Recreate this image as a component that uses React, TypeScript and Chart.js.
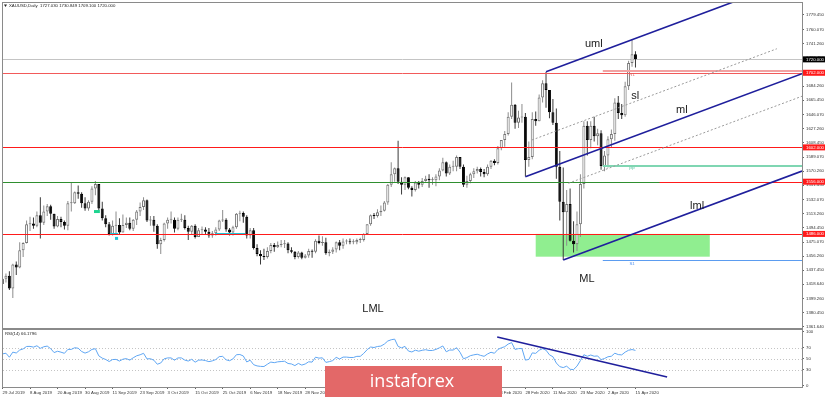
import React, { useEffect, useRef } from "react";
import { Chart, registerables } from "chart.js";

Chart.register(...registerables);

// ---------------- data ----------------
const headerText = "XAUUSD,Daily  1727.030 1730.849 1709.100 1720.000";
const rsiLabel = "RSI(14) 66.1796";

const dateTickBars = [0, 8, 16, 24, 32, 40, 48, 56, 64, 72, 80, 88, 96, 104, 112, 120, 128, 136, 144, 152, 160, 168, 176, 184];
const dateTickLabels = [
  "29 Jul 2019", "8 Aug 2019", "20 Aug 2019", "30 Aug 2019", "11 Sep 2019", "23 Sep 2019",
  "3 Oct 2019", "15 Oct 2019", "25 Oct 2019", "6 Nov 2019", "18 Nov 2019", "28 Nov 2019",
  "10 Dec 2019", "20 Dec 2019", "3 Jan 2020", "15 Jan 2020", "27 Jan 2020", "6 Feb 2020",
  "18 Feb 2020", "28 Feb 2020", "11 Mar 2020", "23 Mar 2020", "2 Apr 2020", "15 Apr 2020",
];

const priceTicks = [
  1779.45, 1760.07, 1741.26, 1722.45, 1703.64, 1684.26, 1665.45, 1646.07, 1627.26, 1608.45,
  1589.07, 1570.26, 1551.45, 1532.07, 1513.26, 1494.45, 1475.07, 1456.26, 1437.45, 1418.64,
  1399.26, 1380.45, 1361.64,
];
const rsiTicks = [0, 30, 50, 70, 100];
const rsiLevels = [30, 50, 70];

const firstOpen = 1419;
const closes = [
  1426, 1430, 1413, 1445, 1441, 1464, 1474, 1499, 1500, 1497,
  1511, 1501, 1516, 1523, 1513, 1496, 1506, 1502, 1497, 1527,
  1527, 1542, 1540, 1527, 1520, 1529, 1547, 1553, 1520, 1507,
  1499, 1486, 1497, 1498, 1488, 1498, 1501, 1493, 1505, 1516,
  1522, 1531, 1504, 1505, 1497, 1472, 1478, 1500, 1505, 1505,
  1493, 1505, 1505, 1494, 1489, 1497, 1482, 1491, 1492, 1489,
  1484, 1487, 1492, 1504, 1505, 1492, 1488, 1495, 1513, 1514,
  1509, 1484, 1491, 1467, 1459, 1456, 1455, 1463, 1471, 1468,
  1471, 1472, 1473, 1464, 1462, 1455, 1461, 1454, 1457, 1463,
  1462, 1477, 1474, 1475, 1460, 1462, 1465, 1475, 1470, 1476,
  1476, 1475, 1475, 1478, 1478, 1486, 1499, 1511, 1510, 1515,
  1517, 1528, 1552, 1566, 1574, 1556, 1552, 1562, 1548, 1545,
  1555, 1552, 1557, 1560, 1558, 1558, 1563, 1571, 1582, 1567,
  1576, 1576, 1589, 1576, 1552, 1557, 1566, 1570, 1573, 1569,
  1566, 1576, 1584, 1581, 1601, 1612, 1620, 1643, 1659, 1635,
  1642, 1643, 1585, 1589, 1640, 1637, 1669, 1688, 1679, 1649,
  1635, 1576, 1529, 1515, 1526, 1477, 1472, 1499, 1553, 1631,
  1612, 1631, 1617, 1621, 1577, 1591, 1613, 1620, 1662, 1648,
  1645, 1684, 1715, 1727, 1720,
];
const highs = [
  1428, 1433, 1436, 1446, 1449, 1475, 1475, 1504, 1509, 1508,
  1516, 1535, 1524, 1526, 1525, 1513, 1510, 1509, 1504, 1530,
  1555, 1543, 1551, 1542, 1535, 1531, 1550, 1557, 1553, 1529,
  1511, 1502, 1504, 1516, 1507, 1512, 1508, 1508, 1506, 1518,
  1528, 1535, 1532, 1510, 1510, 1499, 1481, 1501, 1508, 1516,
  1508, 1508, 1513, 1511, 1497, 1498, 1499, 1494, 1496, 1495,
  1494, 1490, 1495, 1505, 1518, 1507, 1494, 1497, 1514, 1517,
  1516, 1511, 1494, 1494, 1472, 1464, 1466, 1468, 1474, 1474,
  1476, 1478, 1478, 1475, 1468, 1463, 1463, 1462, 1459, 1466,
  1465, 1479, 1484, 1483, 1481, 1465, 1468, 1476, 1478, 1480,
  1479, 1480, 1479, 1480, 1481, 1487, 1499, 1512, 1514, 1519,
  1524, 1530, 1553, 1582, 1575, 1611, 1562, 1563, 1562, 1550,
  1557, 1557, 1561, 1564, 1566, 1562, 1566, 1574, 1588, 1583,
  1579, 1584, 1591, 1589, 1579, 1564, 1568, 1574, 1576, 1575,
  1573, 1579, 1585, 1586, 1604, 1612, 1624, 1649, 1689, 1660,
  1651, 1660, 1648, 1610, 1649, 1650, 1673, 1692, 1703, 1679,
  1667, 1654, 1597, 1575, 1545, 1547, 1503, 1516, 1566, 1637,
  1637, 1637, 1643, 1627, 1625, 1597, 1617, 1626, 1668, 1671,
  1660, 1690, 1718, 1747, 1731,
];
const lows = [
  1416, 1421, 1411, 1400, 1431, 1440, 1455, 1473, 1490, 1493,
  1495, 1480, 1498, 1510, 1505, 1493, 1495, 1495, 1492, 1491,
  1516, 1526, 1533, 1521, 1517, 1517, 1526, 1538, 1517, 1504,
  1495, 1484, 1484, 1485, 1485, 1488, 1494, 1491, 1490, 1498,
  1510, 1518, 1502, 1497, 1489, 1466, 1459, 1476, 1493, 1500,
  1488, 1491, 1502, 1492, 1478, 1485, 1480, 1482, 1485, 1485,
  1481, 1481, 1484, 1490, 1502, 1489, 1484, 1484, 1493, 1503,
  1501, 1480, 1480, 1465, 1456, 1445, 1451, 1453, 1460, 1462,
  1467, 1468, 1467, 1460, 1460, 1452, 1453, 1452, 1453, 1454,
  1454, 1460, 1472, 1470, 1458, 1456, 1459, 1461, 1464, 1466,
  1472, 1472, 1472, 1472, 1474, 1476, 1485, 1497, 1506, 1508,
  1510, 1516, 1525, 1549, 1556, 1553, 1539, 1545, 1546, 1536,
  1543, 1547, 1549, 1556, 1548, 1552, 1550, 1558, 1570, 1563,
  1565, 1570, 1570, 1573, 1549, 1548, 1554, 1561, 1567, 1563,
  1562, 1564, 1573, 1578, 1579, 1598, 1603, 1618, 1640, 1627,
  1628, 1635, 1563, 1576, 1586, 1631, 1637, 1662, 1655, 1641,
  1632, 1560, 1504, 1451, 1470, 1476, 1461, 1463, 1482, 1547,
  1591, 1601, 1610, 1605, 1572, 1570, 1575, 1602, 1611, 1640,
  1640, 1643, 1679, 1710, 1709,
];
// closes before the first visible bar (warm-up of the RSI)
const priorCloses = [1399, 1396, 1397, 1419, 1404, 1415, 1413, 1406, 1426, 1445, 1426, 1424, 1417, 1425, 1415, 1419];

// horizontal levels
const redLevels = [1702.0, 1602.0, 1556.0, 1486.0];
const bidPrice = 1720.0;
const greenLevel = 1556.0;
const greenLevelBars = [0, 191];
const pivotNames = ["R1", "PP", "S1"];
const pivotPrices = [1704.5, 1577.5, 1451.0];
const pivotStartBar = 174.5;
const pivotLabelBar = 183;
const zoneBars = [155, 205.6];
const zonePrices = [1486, 1455.5];

// Andrews pitchfork pivots (bar index, price)
const forkBars = [152, 158, 163];
const forkPrices = [1562.6, 1703.4, 1451.0];
const slideBars = [153.9, 164.5];
const slidePrices = [1611.9, 1553.9];
const slideEndBars = [225.1, 232.5];

const noteTexts = ["uml", "sl", "ml", "lml", "ML", "LML"];
const noteBars = [171.9, 183.9, 197.5, 201.9, 169.9, 107.7];
const notePrices = [1741.2, 1670.9, 1652.1, 1524.1, 1426.2, 1385.4];

const greenMarkBars = [26.6, 28.3];
const greenMarkPrices = [1518, 1514];
const cyanMarkBars = [32.7, 33.6];
const cyanMarkPrices = [1482, 1478];
const cyanSegPrice = 1487.6;
const cyanSegBars = [[31.2, 33.6], [61.8, 70.5]];

const rsiTrendBars = [143.8, 193.2];
const rsiTrendValues = [90.1, 16.4];

// axis ranges
const xMin = 0.145;
const xMax = 232.41;
const yMin = 1359.9;
const yMax = 1795.53;

// ---------------- helpers ----------------
function computeRsi(prior: number[], cl: number[], period: number): (number | null)[] {
  const all = prior.concat(cl);
  const vals: (number | null)[] = new Array(all.length).fill(null);
  let ag = 0;
  let al = 0;
  for (let k = 1; k <= period; k++) {
    const d = all[k] - all[k - 1];
    if (d > 0) ag += d;
    else al -= d;
  }
  ag /= period;
  al /= period;
  vals[period] = al === 0 ? 100 : 100 - 100 / (1 + ag / al);
  for (let k = period + 1; k < all.length; k++) {
    const d = all[k] - all[k - 1];
    ag = (ag * (period - 1) + Math.max(d, 0)) / period;
    al = (al * (period - 1) + Math.max(-d, 0)) / period;
    vals[k] = al === 0 ? 100 : 100 - 100 / (1 + ag / al);
  }
  return vals.slice(prior.length);
}

const FAMILY = '"Liberation Sans", Arial, sans-serif';
const tinyFont = { family: FAMILY, size: 4.3 };
const FORK_COLOR = "#1f1f9c";

function zeroPadding(s: any) {
  s.paddingTop = 0;
  s.paddingBottom = 0;
  s.paddingLeft = 0;
  s.paddingRight = 0;
}

export default function App() {
  const priceRef = useRef<HTMLCanvasElement>(null);
  const rsiRef = useRef<HTMLCanvasElement>(null);

  useEffect(() => {
    const opens = closes.map((_, i) => (i === 0 ? firstOpen : closes[i - 1]));
    const up = closes.map((c, i) => c >= opens[i]);
    const wickData = closes.map((_, i) => ({ x: i, y: [lows[i], highs[i]] }));
    const bodyData = closes.map((c, i) => ({ x: i, y: [opens[i], c] }));
    const rsi = computeRsi(priorCloses, closes, 14);

    const pricePlugin = {
      id: "priceAnno",
      beforeDatasetsDraw(chart: any) {
        const { ctx, chartArea: a, scales } = chart;
        const X = (v: number) => scales.x.getPixelForValue(v);
        const Y = (v: number) => scales.y.getPixelForValue(v);
        ctx.save();
        ctx.beginPath();
        ctx.rect(a.left, a.top, a.right - a.left, a.bottom - a.top);
        ctx.clip();
        // zone
        ctx.fillStyle = "#90ee90";
        const zx0 = X(zoneBars[0]);
        const zx1 = X(zoneBars[1]);
        const zy0 = Y(zonePrices[0]);
        const zy1 = Y(zonePrices[1]);
        ctx.fillRect(zx0, zy0, zx1 - zx0, zy1 - zy0);
        // bid line
        ctx.strokeStyle = "#c4c4c4";
        ctx.lineWidth = 1;
        const by = Math.round(Y(bidPrice)) + 0.5;
        ctx.beginPath();
        ctx.moveTo(a.left, by);
        ctx.lineTo(a.right, by);
        ctx.stroke();
        ctx.restore();
      },
      afterDatasetsDraw(chart: any) {
        const { ctx, chartArea: a, scales } = chart;
        const X = (v: number) => scales.x.getPixelForValue(v);
        const Y = (v: number) => scales.y.getPixelForValue(v);
        const hl = (p: number, b0: number, b1: number, color: string, w: number) => {
          ctx.strokeStyle = color;
          ctx.lineWidth = w;
          const yy = Math.round(Y(p)) + (w % 2 === 1 ? 0.5 : 0);
          ctx.beginPath();
          ctx.moveTo(X(b0), yy);
          ctx.lineTo(X(b1), yy);
          ctx.stroke();
        };
        const seg = (b0: number, p0: number, b1: number, p1: number) => {
          ctx.beginPath();
          ctx.moveTo(X(b0), Y(p0));
          ctx.lineTo(X(b1), Y(p1));
          ctx.stroke();
        };
        ctx.save();
        ctx.beginPath();
        ctx.rect(a.left, a.top, a.right - a.left, a.bottom - a.top);
        ctx.clip();

        // pivot lines
        hl(pivotPrices[0], pivotStartBar, xMax, "#f2a2a2", 2);
        hl(pivotPrices[1], pivotStartBar, xMax, "#7fd6b2", 2);
        hl(pivotPrices[2], pivotStartBar, xMax, "#5b9cf0", 1);

        // red levels
        redLevels.forEach((p, k) => hl(p, xMin, xMax, k === 0 ? "#f25a5a" : "#ff1a1a", 1));
        // green level (over the red one on its left part)
        hl(greenLevel, Math.max(greenLevelBars[0], xMin), greenLevelBars[1], "#2f8f2f", 1);

        // markers
        ctx.fillStyle = "#1ed490";
        ctx.fillRect(X(greenMarkBars[0]), Y(greenMarkPrices[0]), X(greenMarkBars[1]) - X(greenMarkBars[0]), Y(greenMarkPrices[1]) - Y(greenMarkPrices[0]));
        ctx.fillStyle = "#22c4d6";
        ctx.fillRect(X(cyanMarkBars[0]), Y(cyanMarkPrices[0]), X(cyanMarkBars[1]) - X(cyanMarkBars[0]), Y(cyanMarkPrices[1]) - Y(cyanMarkPrices[0]));
        cyanSegBars.forEach((bb) => hl(cyanSegPrice, bb[0], bb[1], "#22c4d6", 1));

        // pitchfork
        const midBar = (forkBars[1] + forkBars[2]) / 2;
        const midPrice = (forkPrices[1] + forkPrices[2]) / 2;
        const slope = (midPrice - forkPrices[0]) / (midBar - forkBars[0]);
        // sliding dashed parallels
        ctx.strokeStyle = "#9a9a9a";
        ctx.lineWidth = 1;
        ctx.setLineDash([2, 2]);
        for (let k = 0; k < slideBars.length; k++) {
          seg(slideBars[k], slidePrices[k], slideEndBars[k], slidePrices[k] + slope * (slideEndBars[k] - slideBars[k]));
        }
        ctx.setLineDash([]);
        ctx.strokeStyle = FORK_COLOR;
        ctx.lineWidth = 1.6;
        for (let k = 0; k < 3; k++) {
          seg(forkBars[k], forkPrices[k], xMax, forkPrices[k] + slope * (xMax - forkBars[k]));
        }

        // notes
        ctx.fillStyle = "#1a1a1a";
        ctx.font = `11px ${FAMILY}`;
        ctx.textAlign = "center";
        ctx.textBaseline = "middle";
        noteTexts.forEach((t, k) => ctx.fillText(t, X(noteBars[k]), Y(notePrices[k])));

        // pivot labels
        ctx.font = `4.3px ${FAMILY}`;
        ctx.textAlign = "center";
        ctx.textBaseline = "top";
        const pc = ["#e05a5a", "#4cc49a", "#4a8ef0"];
        pivotNames.forEach((n, k) => {
          ctx.fillStyle = pc[k];
          ctx.fillText(n, X(pivotLabelBar), Y(pivotPrices[k]) + 1.5);
        });
        ctx.restore();
      },
      afterDraw(chart: any) {
        const { ctx, chartArea: a, scales } = chart;
        const Y = (v: number) => scales.y.getPixelForValue(v);
        ctx.save();
        // frame
        ctx.strokeStyle = "#8a8a8a";
        ctx.lineWidth = 1;
        ctx.strokeRect(a.left - 0.5, a.top - 0.5, a.right - a.left + 1, a.bottom - a.top + 1);
        // header
        ctx.fillStyle = "#222";
        ctx.beginPath();
        ctx.moveTo(4, 4.5);
        ctx.lineTo(7, 4.5);
        ctx.lineTo(5.5, 7);
        ctx.closePath();
        ctx.fill();
        ctx.font = `4.3px ${FAMILY}`;
        ctx.textAlign = "left";
        ctx.textBaseline = "middle";
        ctx.fillText(headerText, 9, 6);
        // price boxes on axis
        const boxes: [number, string][] = [[bidPrice, "#000000"], ...redLevels.map((p): [number, string] => [p, "#ff1a1a"])];
        boxes.forEach(([p, col]) => {
          const yy = Y(p);
          ctx.fillStyle = col;
          ctx.fillRect(a.right + 1, yy - 3, 825 - a.right - 1, 6);
          ctx.fillStyle = "#ffffff";
          ctx.fillText(p.toFixed(3), a.right + 4, yy);
        });
        ctx.restore();
      },
    };

    const rsiPlugin = {
      id: "rsiAnno",
      beforeDatasetsDraw(chart: any) {
        const { ctx, chartArea: a, scales } = chart;
        ctx.save();
        ctx.strokeStyle = "#c4c4c4";
        ctx.lineWidth = 1;
        ctx.setLineDash([1, 2]);
        rsiLevels.forEach((v) => {
          const yy = Math.round(scales.y.getPixelForValue(v)) + 0.5;
          ctx.beginPath();
          ctx.moveTo(a.left, yy);
          ctx.lineTo(a.right, yy);
          ctx.stroke();
        });
        ctx.restore();
      },
      afterDatasetsDraw(chart: any) {
        const { ctx, chartArea: a, scales } = chart;
        ctx.save();
        ctx.beginPath();
        ctx.rect(a.left, a.top, a.right - a.left, a.bottom - a.top);
        ctx.clip();
        ctx.strokeStyle = FORK_COLOR;
        ctx.lineWidth = 1.6;
        ctx.beginPath();
        ctx.moveTo(scales.x.getPixelForValue(rsiTrendBars[0]), scales.y.getPixelForValue(rsiTrendValues[0]));
        ctx.lineTo(scales.x.getPixelForValue(rsiTrendBars[1]), scales.y.getPixelForValue(rsiTrendValues[1]));
        ctx.stroke();
        ctx.restore();
      },
      afterDraw(chart: any) {
        const { ctx, chartArea: a } = chart;
        ctx.save();
        ctx.strokeStyle = "#8a8a8a";
        ctx.lineWidth = 1;
        ctx.strokeRect(a.left - 0.5, a.top - 0.5, a.right - a.left + 1, a.bottom - a.top + 1);
        ctx.fillStyle = "#222";
        ctx.font = `4.3px ${FAMILY}`;
        ctx.textAlign = "left";
        ctx.textBaseline = "middle";
        ctx.fillText(rsiLabel, a.left + 2, a.top + 3.5);
        // watermark logo
        ctx.fillStyle = "#e36868";
        ctx.fillRect(325, 38, 177, 31);
        ctx.fillStyle = "#ffffff";
        ctx.font = `18px "Open Sans", ${FAMILY}`;
        ctx.textAlign = "center";
        ctx.textBaseline = "alphabetic";
        ctx.fillText("instaforex", 412, 58.7);
        ctx.restore();
      },
    };

    const priceChart = new Chart(priceRef.current as HTMLCanvasElement, {
      type: "bar",
      data: {
        datasets: [
          {
            type: "bar",
            data: wickData as any,
            backgroundColor: up.map((u) => (u ? "#8c8c8c" : "#3a3a3a")),
            borderWidth: 0,
            barThickness: 1,
            grouped: false,
            inflateAmount: 0,
            order: 2,
          } as any,
          {
            type: "bar",
            data: bodyData as any,
            backgroundColor: up.map((u) => (u ? "#ffffff" : "#000000")),
            borderColor: up.map((u) => (u ? "#747474" : "#000000")),
            borderWidth: 1,
            borderSkipped: false,
            barThickness: 3,
            minBarLength: 1,
            grouped: false,
            inflateAmount: 0,
            order: 1,
          } as any,
        ],
      },
      options: {
        responsive: false,
        animation: false,
        events: [],
        layout: { padding: { left: 3, top: 3, right: 0, bottom: 2 } },
        plugins: { legend: { display: false }, tooltip: { enabled: false } },
        scales: {
          x: { type: "linear", min: xMin, max: xMax, offset: false, display: false },
          y: {
            type: "linear",
            position: "right",
            min: yMin,
            max: yMax,
            afterBuildTicks: (s: any) => {
              s.ticks = priceTicks.map((v) => ({ value: v }));
            },
            afterFit: (s: any) => {
              s.width = 23;
              zeroPadding(s);
            },
            ticks: {
              font: tinyFont,
              color: "#333",
              padding: 2,
              callback: (v: any) => Number(v).toFixed(3),
            },
            grid: { drawOnChartArea: false, drawTicks: true, tickLength: 2, color: "#666" },
            border: { display: true, color: "#8a8a8a" },
          },
        },
      } as any,
      plugins: [pricePlugin],
    });

    const rsiChart = new Chart(rsiRef.current as HTMLCanvasElement, {
      type: "line",
      data: {
        datasets: [
          {
            data: rsi.map((v, i) => ({ x: i, y: v })) as any,
            borderColor: "#5fa6f3",
            borderWidth: 1,
            pointRadius: 0,
            tension: 0,
            fill: false,
          },
        ],
      },
      options: {
        responsive: false,
        animation: false,
        events: [],
        layout: { padding: { left: 3, top: 2, right: 0, bottom: 0 } },
        plugins: { legend: { display: false }, tooltip: { enabled: false } },
        scales: {
          x: {
            type: "linear",
            min: xMin,
            max: xMax,
            offset: false,
            afterBuildTicks: (s: any) => {
              s.ticks = dateTickBars.map((v) => ({ value: v }));
            },
            afterFit: (s: any) => {
              s.height = 10;
              zeroPadding(s);
            },
            ticks: {
              autoSkip: false,
              maxRotation: 0,
              minRotation: 0,
              align: "start",
              font: tinyFont,
              color: "#333",
              padding: 1,
              callback: (_v: any, i: number) => dateTickLabels[i],
            },
            grid: { drawOnChartArea: false, drawTicks: true, tickLength: 2, color: "#666" },
            border: { display: true, color: "#8a8a8a" },
          },
          y: {
            type: "linear",
            position: "right",
            min: -2,
            max: 103,
            afterBuildTicks: (s: any) => {
              s.ticks = rsiTicks.map((v) => ({ value: v }));
            },
            afterFit: (s: any) => {
              s.width = 23;
              zeroPadding(s);
            },
            ticks: { font: tinyFont, color: "#333", padding: 2, callback: (v: any) => String(v) },
            grid: { drawOnChartArea: false, drawTicks: true, tickLength: 2, color: "#666" },
            border: { display: true, color: "#8a8a8a" },
          },
        },
      } as any,
      plugins: [rsiPlugin],
    });

    return () => {
      priceChart.destroy();
      rsiChart.destroy();
    };
  }, []);

  return (
    <div style={{ position: "fixed", left: 0, top: 0, width: 825, height: 397, background: "#ffffff", overflow: "hidden" }}>
      <canvas ref={priceRef} width={825} height={330} style={{ position: "absolute", left: 0, top: 0, display: "block" }} />
      <canvas ref={rsiRef} width={825} height={69} style={{ position: "absolute", left: 0, top: 328, display: "block" }} />
    </div>
  );
}
